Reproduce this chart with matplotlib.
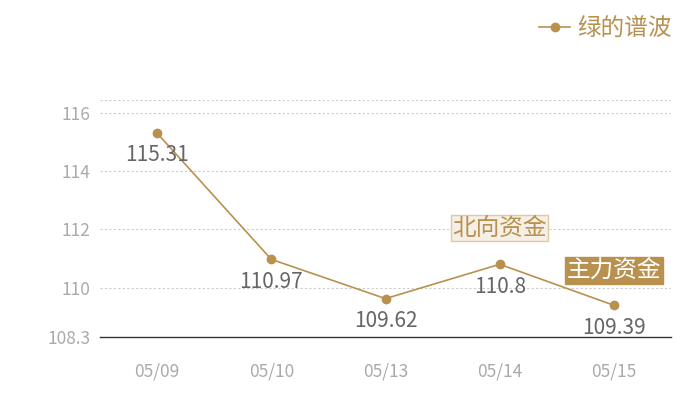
import matplotlib
matplotlib.use("Agg")
import matplotlib.pyplot as plt
from matplotlib.lines import Line2D

plt.rcParams['font.family'] = ['Noto Sans CJK SC', 'DejaVu Sans']

dates = ["05/09", "05/10", "05/13", "05/14", "05/15"]
values = [115.31, 110.97, 109.62, 110.8, 109.39]
yticks = [108.3, 110, 112, 114, 116]
series_name = "绿的谱波"
tag_north = "北向资金"
tag_main = "主力资金"

gold = "#b8914f"

fig = plt.figure(figsize=(7, 4), dpi=100)
ax = fig.add_axes([100/700, 63/400, 571/700, 237/400])
x = list(range(len(dates)))

ax.set_xlim(-0.5, 4.5)
ax.set_ylim(108.3, 116.45)

for y in [110, 112, 114, 116, 116.45]:
    ax.axhline(y, color="#cccccc", lw=0.8, ls=(0, (2, 2)), zorder=1)

ax.plot(x, values, color=gold, lw=1.2, marker="o", ms=6, zorder=3)
for xi, v in zip(x, values):
    ax.annotate(str(v), (xi, v), xytext=(0, -16), textcoords="offset points",
                ha="center", va="center", fontsize=15, color="#666666")

ax.annotate(tag_north, (3, values[3]), xytext=(0, 26), textcoords="offset points",
            ha="center", va="center", fontsize=17, color=gold,
            bbox=dict(boxstyle="square,pad=0.06", fc="#f5efe6", ec="#dccaa8", lw=1))
ax.annotate(tag_main, (4, values[4]), xytext=(0, 25), textcoords="offset points",
            ha="center", va="center", fontsize=17, color="white",
            bbox=dict(boxstyle="square,pad=0.08", fc=gold, ec=gold))

ax.set_xticks(x)
ax.set_xticklabels(dates)
ax.set_yticks(yticks)
ax.set_yticklabels(["108.3", "110", "112", "114", "116"])
ax.tick_params(axis="both", length=0, colors="#aaaaaa", labelsize=12.5)
ax.tick_params(axis="x", pad=18)
ax.tick_params(axis="y", pad=7)
for s in ["top", "right", "left"]:
    ax.spines[s].set_visible(False)
ax.spines["bottom"].set_color("#333333")
ax.spines["bottom"].set_linewidth(1)

handle = Line2D([], [], color=gold, lw=1.2, marker="o", ms=6)
leg = fig.legend([handle], [series_name], loc="upper right", bbox_to_anchor=(0.99, 1.01),
                 frameon=False, fontsize=17, handlelength=1.3, handletextpad=0.3)
for t in leg.get_texts():
    t.set_color(gold)

fig.savefig("out.png", dpi=100)
